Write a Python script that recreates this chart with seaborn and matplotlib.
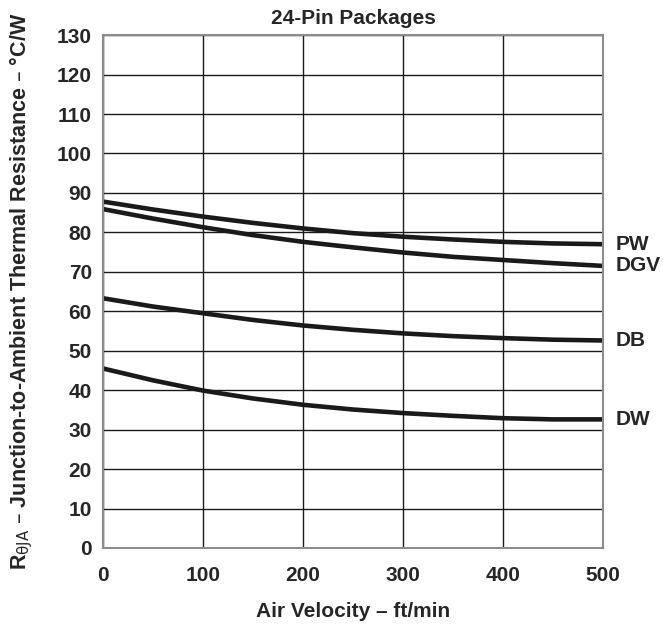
import pandas as pd
import matplotlib
matplotlib.use("Agg")
import matplotlib.pyplot as plt
import seaborn as sns

# valores
velocidad = [0, 50, 100, 150, 200, 250, 300, 350, 400, 450, 500]
pw = [87.8, 85.8, 84.0, 82.4, 81.0, 79.8, 78.9, 78.2, 77.6, 77.2, 77.0]
dgv = [85.9, 83.5, 81.3, 79.3, 77.6, 76.2, 74.9, 73.8, 73.0, 72.2, 71.5]
db = [63.3, 61.2, 59.5, 57.8, 56.4, 55.3, 54.4, 53.7, 53.2, 52.8, 52.6]
dw = [45.5, 42.5, 39.9, 37.9, 36.3, 35.1, 34.2, 33.5, 32.9, 32.6, 32.6]
paquetes = ["PW", "DGV", "DB", "DW"]

df = pd.DataFrame({
    "vel": velocidad * 4,
    "rth": pw + dgv + db + dw,
    "paquete": [p for p in paquetes for _ in velocidad],
})

sns.set_theme(style="white")
plt.rcParams["font.family"] = ["Liberation Sans", "DejaVu Sans"]

fig = plt.figure(figsize=(6.63, 6.27), dpi=100)
ax = fig.add_axes([0.1554, 0.126, 0.754, 0.818])

sns.lineplot(data=df, x="vel", y="rth", hue="paquete",
             palette={p: "#1a1a1a" for p in paquetes},
             linewidth=3.3, legend=False, ax=ax)

ax.set_xlim(0, 500)
ax.set_ylim(0, 130)
ax.set_xticks(range(0, 501, 100))
ax.set_yticks(range(0, 131, 10))
ax.grid(True, color="#1a1a1a", linewidth=1.0)
ax.set_axisbelow(True)
for s in ax.spines.values():
    s.set_color("#8c8c8c")
    s.set_linewidth(1.5)
ax.tick_params(axis="y", length=0, labelsize=15, pad=8)
ax.tick_params(axis="x", length=0, labelsize=15, pad=13)
for lab in ax.get_xticklabels() + ax.get_yticklabels():
    lab.set_fontweight("bold")

ax.set_xlabel("Air Velocity – ft/min", fontsize=15, fontweight="bold", labelpad=12)
ax.set_ylabel(r"R$_{\mathrm{θJA}}$ – Junction-to-Ambient Thermal Resistance – °C/W",
              fontsize=15.5, fontweight="bold", labelpad=16)
ax.set_title("24-Pin Packages", fontsize=15, fontweight="bold", pad=8)

# etiquetas de cada curva al final
finales = {"PW": pw[-1], "DGV": dgv[-1], "DB": db[-1], "DW": dw[-1]}
for p in paquetes:
    ax.text(1.026, finales[p], p, transform=ax.get_yaxis_transform(),
            fontsize=15, fontweight="bold", va="center", ha="left", clip_on=False)

fig.savefig("out.png", dpi=100)
